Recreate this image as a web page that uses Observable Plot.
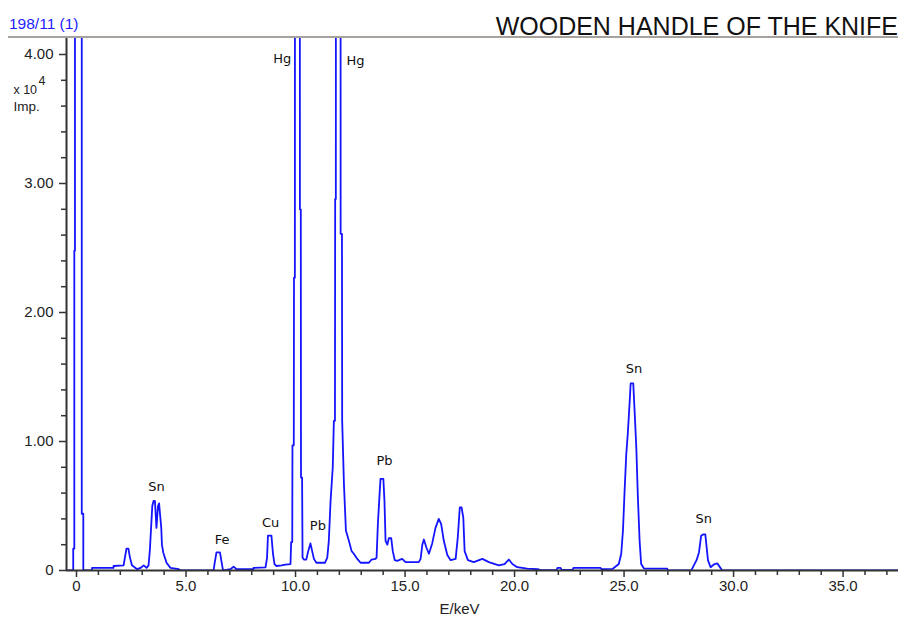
<!DOCTYPE html>
<html>
<head>
<meta charset="utf-8">
<script src="https://cdn.jsdelivr.net/npm/d3@7"></script>
<script src="https://cdn.jsdelivr.net/npm/@observablehq/plot@0.6"></script>
<style>
  body { margin: 0; background: #fff; }
  #hdr { position: relative; width: 903px; height: 38px; font-family: "Liberation Sans", Arial, sans-serif; }
  #sample { position: absolute; left: 9px; top: 16.4px; font-size: 15.5px; line-height: 15.5px; color: #1c1cff; white-space: nowrap; }
  #title { position: absolute; right: 5px; top: 13.8px; font-size: 25px; line-height: 25px; color: #111; white-space: nowrap; }
  #rule { position: absolute; left: 8px; top: 36px; width: 890px; height: 2px; background: #a6a19c; }
  #chart svg { display: block; }
</style>
</head>
<body>
<div id="hdr">
  <div id="sample">198/11 (1)</div>
  <div id="title">WOODEN HANDLE OF THE KNIFE</div>
  <div id="rule"></div>
</div>
<div id="chart"></div>
<script>
// Spectrum: [energy keV, counts ×10^4]
const segLow = [[-0.45,0],[-0.15,0],[-0.15,0.17],[-0.10,0.17],[-0.10,2.48],[-0.07,2.48],[-0.07,9],[0.24,9],[0.24,0.44],[0.31,0.44],[0.31,0],[0.71,0],[0.71,0.02],[1.69,0.02],[1.69,0.035],[2.15,0.04],[2.21,0.1],[2.28,0.17],[2.37,0.17],[2.44,0.1],[2.53,0.04],[2.77,0.01],[2.92,0.02],[3.07,0.04],[3.20,0.02],[3.29,0.04],[3.35,0.16],[3.46,0.5],[3.52,0.54],[3.58,0.54],[3.65,0.33],[3.72,0.5],[3.77,0.52],[3.87,0.33],[3.90,0.2],[3.96,0.14],[4.11,0.06],[4.29,0.02],[4.67,0.01],[4.75,0]];
const segFeCu = [[6.26,0],[6.30,0.05],[6.39,0.14],[6.55,0.14],[6.64,0.05],[6.69,0],[7.03,0.01],[7.17,0.03],[7.31,0.01],[8.08,0.01],[8.08,0.02],[8.63,0.025],[8.70,0.1],[8.74,0.27],[8.90,0.27],[8.97,0.13],[9.04,0.05],[9.13,0.035],[9.36,0.04],[9.54,0.045],[9.77,0.05]];
const segHg = [[9.80,0.22],[9.85,0.22],[9.86,0.97],[9.92,0.97],[9.93,2.27],[9.97,2.27],[9.98,9],[10.19,9],[10.20,2.80],[10.24,2.80],[10.25,0.72],[10.30,0.72],[10.32,0.1],[10.38,0.085],[10.49,0.085],[10.58,0.15],[10.68,0.21],[10.76,0.15],[10.84,0.09],[10.95,0.06],[11.34,0.06],[11.45,0.1],[11.52,0.23],[11.60,0.54],[11.70,0.8],[11.75,1.16],[11.80,1.16],[11.81,2.88],[11.84,2.88],[11.85,9],[12.05,9],[12.06,2.61],[12.12,2.61],[12.13,1.16],[12.21,0.67],[12.30,0.31],[12.37,0.27],[12.47,0.21],[12.56,0.15],[12.66,0.13],[12.82,0.09],[12.97,0.06],[13.35,0.06],[13.47,0.085],[13.65,0.09]];
const segPb = [[13.70,0.1],[13.76,0.36],[13.84,0.6],[13.88,0.71],[14.01,0.71],[14.06,0.54],[14.11,0.23],[14.19,0.2],[14.26,0.25],[14.37,0.25],[14.44,0.15],[14.53,0.08],[14.64,0.075],[14.87,0.09],[15.02,0.065],[15.63,0.065],[15.71,0.09],[15.79,0.2],[15.86,0.24],[15.97,0.18],[16.09,0.13],[16.24,0.21],[16.39,0.33],[16.54,0.4],[16.65,0.36],[16.77,0.23],[16.93,0.12],[17.08,0.08],[17.31,0.09],[17.41,0.26],[17.50,0.49],[17.58,0.49],[17.66,0.41],[17.72,0.15],[17.87,0.08],[18.14,0.065],[18.53,0.09],[18.83,0.065],[19.28,0.04],[19.54,0.05],[19.74,0.085],[19.90,0.05],[20.12,0.026],[20.58,0.015],[21.05,0.01],[21.19,0.003],[21.92,0.003],[21.96,0.02],[22.10,0.02],[22.15,0.005],[22.65,0.005],[22.69,0.02],[23.93,0.02],[23.97,0.01],[24.47,0.012]];
const segSnK = [[24.53,0.02],[24.76,0.05],[24.87,0.13],[24.95,0.31],[25.02,0.6],[25.10,0.9],[25.17,1.06],[25.25,1.29],[25.30,1.45],[25.42,1.45],[25.48,1.24],[25.56,0.95],[25.63,0.57],[25.71,0.23],[25.78,0.05],[25.91,0.015],[26.97,0.015],[26.99,0],[28.08,0],[28.11,0.015],[28.31,0.08],[28.42,0.14],[28.52,0.27],[28.62,0.28],[28.71,0.28],[28.77,0.18],[28.83,0.08],[28.95,0.025],[29.13,0.05],[29.26,0.055],[29.36,0.03],[29.48,0],[37.5,0]];

// Peak labels
const peakNames  = ["Sn", "Fe", "Cu", "Hg", "Pb", "Hg", "Pb", "Sn", "Sn"];
const peakEnergy = [3.65, 6.65, 8.86, 9.39, 11.02, 12.74, 14.06, 25.45, 28.64];
const peakLevel  = [0.651, 0.24, 0.367, 3.967, 0.343, 3.948, 0.853, 1.564, 0.40];

// Axis ticks
const xMajorTicks = [0, 5, 10, 15, 20, 25, 30, 35];
const xMinorTicks = d3.range(1, 38).filter(d => d % 5 !== 0);
const yMajorTicks = [0, 1, 2, 3, 4];
const yMinorTicks = d3.range(1, 21).map(d => d / 5).filter(d => Math.abs(d - Math.round(d)) > 1e-6);

const xDomain = [-0.457, 37.53];
const yDomain = [0, 4.124];

const spectrum = [...segLow, ...segFeCu, ...segHg, ...segPb, ...segSnK].map(([e, c]) => ({e, c}));
const peaks = peakNames.map((name, i) => ({name, e: peakEnergy[i], v: peakLevel[i]}));
const unitLabels = [
  {text: "x 10", e: -2.88, v: 3.725, size: 12.5},
  {text: "4", e: -1.74, v: 3.795, size: 12.5},
  {text: "Imp.", e: -2.88, v: 3.592, size: 13.5}
];

const fmtX = d => d === 0 ? "0" : d.toFixed(1);
const fmtY = d => d === 0 ? "0" : d.toFixed(2);
const axisCol = "#333";

const chart = Plot.plot({
  width: 903,
  height: 580,
  marginLeft: 66,
  marginRight: 5,
  marginTop: 0,
  marginBottom: 48,
  x: {domain: xDomain},
  y: {domain: yDomain},
  style: {fontFamily: "Liberation Sans, Arial, sans-serif", fontSize: "15px", background: "white", color: "#222"},
  marks: [
    Plot.line(spectrum, {x: "e", y: "c", stroke: "#1414ff", strokeWidth: 1.8, clip: true}),
    Plot.axisX(xMinorTicks, {tickSize: 5, tickFormat: () => "", stroke: axisCol, strokeWidth: 1.5, label: null}),
    Plot.axisX(xMajorTicks, {tickSize: 7, tickPadding: 3, tickFormat: fmtX, stroke: axisCol, fill: "#222", strokeWidth: 1.5, label: null, fontSize: 15}),
    Plot.axisY(yMinorTicks, {tickSize: 5, tickFormat: () => "", stroke: axisCol, strokeWidth: 1.5, label: null}),
    Plot.axisY(yMajorTicks, {tickSize: 7, tickPadding: 6, tickFormat: fmtY, stroke: axisCol, fill: "#222", strokeWidth: 1.5, label: null, fontSize: 15}),
    Plot.ruleY([0], {stroke: axisCol, strokeWidth: 2}),
    Plot.ruleX([xDomain[0]], {stroke: axisCol, strokeWidth: 2}),
    Plot.text(peaks, {x: "e", y: "v", text: "name", fontFamily: "DejaVu Sans", fontSize: 13, fill: "#111"}),
    Plot.text(unitLabels, {x: "e", y: "v", text: "text", fontSize: "size", textAnchor: "start", fill: "#222"}),
    Plot.text(["E/keV"], {x: 17.49, y: -0.302, text: d => d, fontSize: 15, fill: "#222"})
  ]
});
document.getElementById("chart").appendChild(chart);
</script>
</body>
</html>
